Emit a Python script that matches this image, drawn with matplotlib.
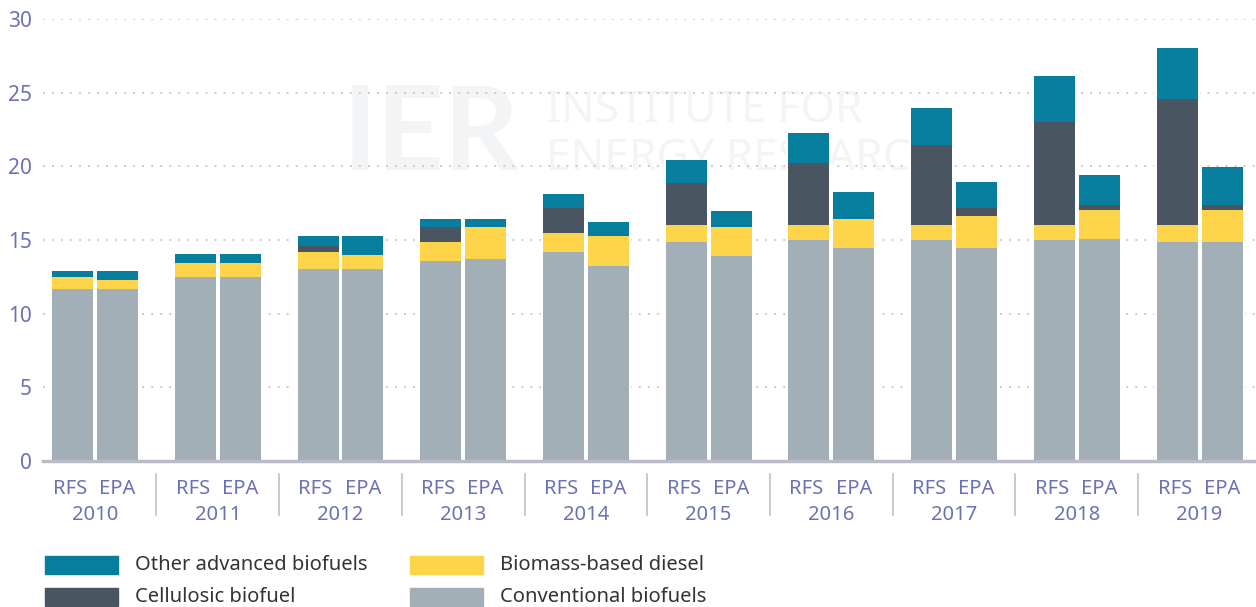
import numpy as np
import matplotlib.pyplot as plt
from matplotlib.patches import Rectangle
from matplotlib.transforms import blended_transform_factory

plt.rcParams['font.family'] = ['Noto Sans', 'DejaVu Sans']

# Données (milliards de gallons)
years = ['2010', '2011', '2012', '2013', '2014', '2015', '2016', '2017', '2018', '2019']
sources = ['RFS', 'EPA']
series = ['Conventional biofuels', 'Biomass-based diesel', 'Cellulosic biofuel', 'Other advanced biofuels']

conv_rfs = [11.7, 12.5, 13.05, 13.6, 14.2, 14.85, 15.0, 15.0, 15.0, 14.85]
bbd_rfs = [0.8, 0.95, 1.15, 1.25, 1.25, 1.2, 1.0, 1.0, 1.0, 1.15]
cell_rfs = [0, 0, 0.4, 1.0, 1.7, 2.8, 4.25, 5.45, 7.0, 8.6]
other_rfs = [0.4, 0.6, 0.65, 0.6, 1.0, 1.6, 2.0, 2.5, 3.15, 3.45]

conv_epa = [11.7, 12.5, 13.05, 13.7, 13.25, 13.9, 14.45, 14.45, 15.05, 14.85]
bbd_epa = [0.6, 0.95, 0.95, 2.2, 2.0, 2.0, 2.0, 2.2, 2.0, 2.2]
cell_epa = [0, 0, 0, 0, 0, 0, 0, 0.55, 0.35, 0.35]
other_epa = [0.6, 0.6, 1.25, 0.55, 0.95, 1.1, 1.8, 1.75, 2.0, 2.55]

colors = ['#a2afb7', '#fdd44a', '#4a5562', '#087e9e']
tick_color = '#6a72b6'
fw = 'light'

W, H = 1256, 607
fig = plt.figure(figsize=(W / 100, H / 100), dpi=100)
ax = fig.add_axes([43 / W, (H - 461) / H, 1 - 43 / W, 442 / H])

x = np.arange(len(years))
off = 0.183
width = 0.334

# filigrane (dans l'axe, sous la grille et les barres)
wm = '#f3f4f6'
ax.text(343 / W, 1 - 170 / H, 'IER', fontsize=84, fontweight='bold', color=wm,
        ha='left', va='baseline', zorder=0, family='Lato', transform=fig.transFigure)
ax.text(546 / W, 1 - 122 / H, 'INSTITUTE FOR', fontsize=32, fontweight='light', color=wm,
        ha='left', va='baseline', zorder=0, transform=fig.transFigure)
ax.text(546 / W, 1 - 170 / H, 'ENERGY RESEARCH', fontsize=32, fontweight='light', color=wm,
        ha='left', va='baseline', zorder=0, transform=fig.transFigure)

for pos, data in [(x - off, [conv_rfs, bbd_rfs, cell_rfs, other_rfs]),
                  (x + off, [conv_epa, bbd_epa, cell_epa, other_epa])]:
    total = np.sum(data, axis=0)
    # fond blanc pour couper la grille autour des barres
    ax.bar(pos, total, width=width + 0.035, color='white', zorder=2)
    bottom = np.zeros(len(years))
    for vals, c in zip(data, colors):
        ax.bar(pos, vals, width=width, bottom=bottom, color=c, zorder=3)
        bottom += np.array(vals)

ax.set_xlim(-0.424, 9.46)
ax.set_ylim(0, 30)
ax.set_yticks(range(0, 31, 5))
ax.tick_params(axis='y', length=0, pad=8, labelsize=15, labelcolor=tick_color)
for lab in ax.get_yticklabels():
    lab.set_fontweight(fw)
ax.set_xticks([])
ax.grid(axis='y', linestyle=(0, (1, 4)), color='#c4c4c4', linewidth=1.3, zorder=1)
for s in ['left', 'right', 'top']:
    ax.spines[s].set_visible(False)
ax.spines['bottom'].set_color('#b9bcc6')
ax.spines['bottom'].set_linewidth(2.5)
ax.spines['bottom'].set_zorder(4)

tr = blended_transform_factory(ax.transData, ax.transAxes)
for i, y in enumerate(years):
    ax.text(i - off - 0.02, -0.063, sources[0], transform=tr, ha='center', va='center',
            fontsize=14.5, color=tick_color, fontweight=fw)
    ax.text(i + off, -0.063, sources[1], transform=tr, ha='center', va='center',
            fontsize=14.5, color=tick_color, fontweight=fw)
    ax.text(i, -0.122, y, transform=tr, ha='center', va='center',
            fontsize=14.5, color=tick_color, fontweight=fw)
    if i > 0:
        ax.plot([i - 0.5, i - 0.5], [-0.03, -0.122], transform=tr, color='#c4c6ce',
                linewidth=1.3, clip_on=False)

# légende
legend_items = [(45, 556, series[3]), (45, 588, series[2]),
                (410, 556, series[1]), (410, 588, series[0])]
for px, py, name in legend_items:
    c = colors[series.index(name)]
    fig.add_artist(Rectangle((px / W, 1 - (py + 18) / H), 73 / W, 18 / H,
                             transform=fig.transFigure, color=c))
    fig.text((px + 90) / W, 1 - (py + 9) / H, name, fontsize=14.5, color='#333333',
             ha='left', va='center')

plt.savefig('out.png', dpi=100)
